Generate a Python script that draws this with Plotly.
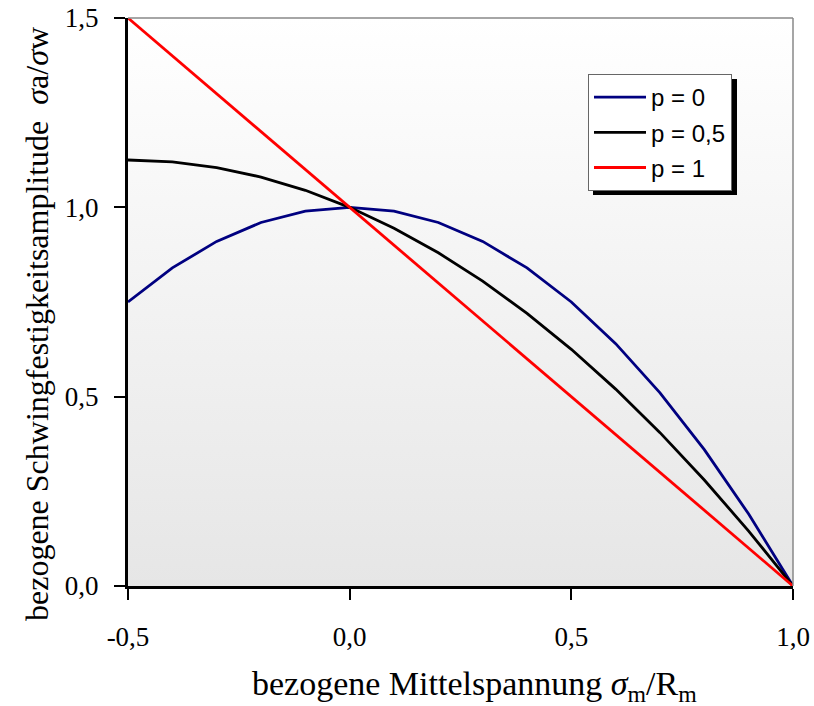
import plotly.graph_objects as go

x_vals = [-0.5, -0.4, -0.3, -0.2, -0.1, 0.0, 0.1, 0.2, 0.3, 0.4, 0.5, 0.6, 0.7, 0.8, 0.9, 1.0]
p0_vals = [0.75, 0.84, 0.91, 0.96, 0.99, 1.0, 0.99, 0.96, 0.91, 0.84, 0.75, 0.64, 0.51, 0.36, 0.19, 0.0]
p05_vals = [1.125, 1.12, 1.105, 1.08, 1.045, 1.0, 0.945, 0.88, 0.805, 0.72, 0.625, 0.52, 0.405, 0.28, 0.145, 0.0]
p1_vals = [1.5, 1.4, 1.3, 1.2, 1.1, 1.0, 0.9, 0.8, 0.7, 0.6, 0.5, 0.4, 0.3, 0.2, 0.1, 0.0]
series_names = ["p = 0", "p = 0,5", "p = 1"]
series_colors = ["#000080", "#000000", "#ff0000"]
x_ticks = [-0.5, 0.0, 0.5, 1.0]
x_ticktext = ["-0,5", "0,0", "0,5", "1,0"]
y_ticks = [0.0, 0.5, 1.0, 1.5]
y_ticktext = ["0,0", "0,5", "1,0", "1,5"]

fig = go.Figure()

# gradient background of plot area
fig.add_trace(go.Scatter(
    x=[-0.5, 1.0, 1.0, -0.5, -0.5], y=[0, 0, 1.5, 1.5, 0],
    fill="toself", mode="none", showlegend=False, hoverinfo="skip",
    fillgradient=dict(type="vertical", colorscale=[[0, "#e6e6e6"], [1, "#ffffff"]]),
))

for i, (name, col, vals) in enumerate(zip(series_names, series_colors, [p0_vals, p05_vals, p1_vals])):
    fig.add_trace(go.Scatter(x=x_vals, y=vals, mode="lines", name=name, legendgroup=f"g{i}",
                             line=dict(color=col, width=2.8), cliponaxis=False))

L, R, T, B = 128, 21, 18, 120
W, H = 814, 706
pw, ph = W - L - R, H - T - B

def px_x(px):
    return (px - L) / pw

def px_y(py):
    return (H - B - py) / ph

# legend shadow
fig.add_shape(type="rect", xref="paper", yref="paper",
              x0=px_x(593), x1=px_x(737), y0=px_y(195), y1=px_y(79),
              fillcolor="black", line=dict(width=0), layer="above")
# top and right frame
fig.add_shape(type="line", xref="paper", yref="paper", x0=0, x1=1, y0=1, y1=1,
              line=dict(color="#888888", width=1.5))
fig.add_shape(type="line", xref="paper", yref="paper", x0=1, x1=1, y0=0, y1=1,
              line=dict(color="#888888", width=1.5))

serif = "Liberation Serif, Times New Roman, serif"
axis_font = dict(family=serif, size=27, color="black")

fig.add_annotation(text="bezogene Mittelspannung <i>σ</i><sub>m</sub>/R<sub>m</sub>",
                   xref="paper", yref="paper", x=px_x(474), y=px_y(686),
                   xanchor="center", yanchor="middle", showarrow=False,
                   font=dict(family=serif, size=34, color="black"))
fig.add_annotation(text="bezogene Schwingfestigkeitsamplitude  <i>σ</i>a/<i>σ</i>w",
                   xref="paper", yref="paper", x=px_x(37), y=px_y(324),
                   xanchor="center", yanchor="middle", showarrow=False,
                   font=dict(family=serif, size=32, color="black"),
                   textangle=-90)

fig.update_layout(
    width=W, height=H,
    margin=dict(l=L, r=R, t=T, b=B),
    paper_bgcolor="white", plot_bgcolor="white",
    showlegend=True,
    legend=dict(x=px_x(588), y=px_y(74), xanchor="left", yanchor="top",
                bgcolor="white", bordercolor="#666666", borderwidth=1,
                font=dict(family="Liberation Sans, Arial, sans-serif", size=24, color="black"),
                tracegroupgap=1, itemwidth=52),
    xaxis=dict(range=[-0.5, 1.0], tickvals=x_ticks, ticktext=x_ticktext,
               showgrid=True, gridcolor="#999999", gridwidth=1,
               showline=True, linecolor="black", linewidth=3,
               ticks="outside", ticklen=11, tickwidth=2, tickcolor="black",
               tickfont=axis_font, zeroline=False, automargin=False,
               ticklabelstandoff=14),
    yaxis=dict(range=[0, 1.5], tickvals=y_ticks, ticktext=y_ticktext,
               showgrid=True, gridcolor="#999999", gridwidth=1,
               showline=True, linecolor="black", linewidth=3,
               ticks="outside", ticklen=11, tickwidth=2, tickcolor="black",
               tickfont=axis_font, zeroline=False, automargin=False,
               ticklabelstandoff=10),
)

fig.write_html("out.html", config={"displayModeBar": False},
               post_script="document.body.style.margin='0px';document.body.style.overflow='hidden';")
